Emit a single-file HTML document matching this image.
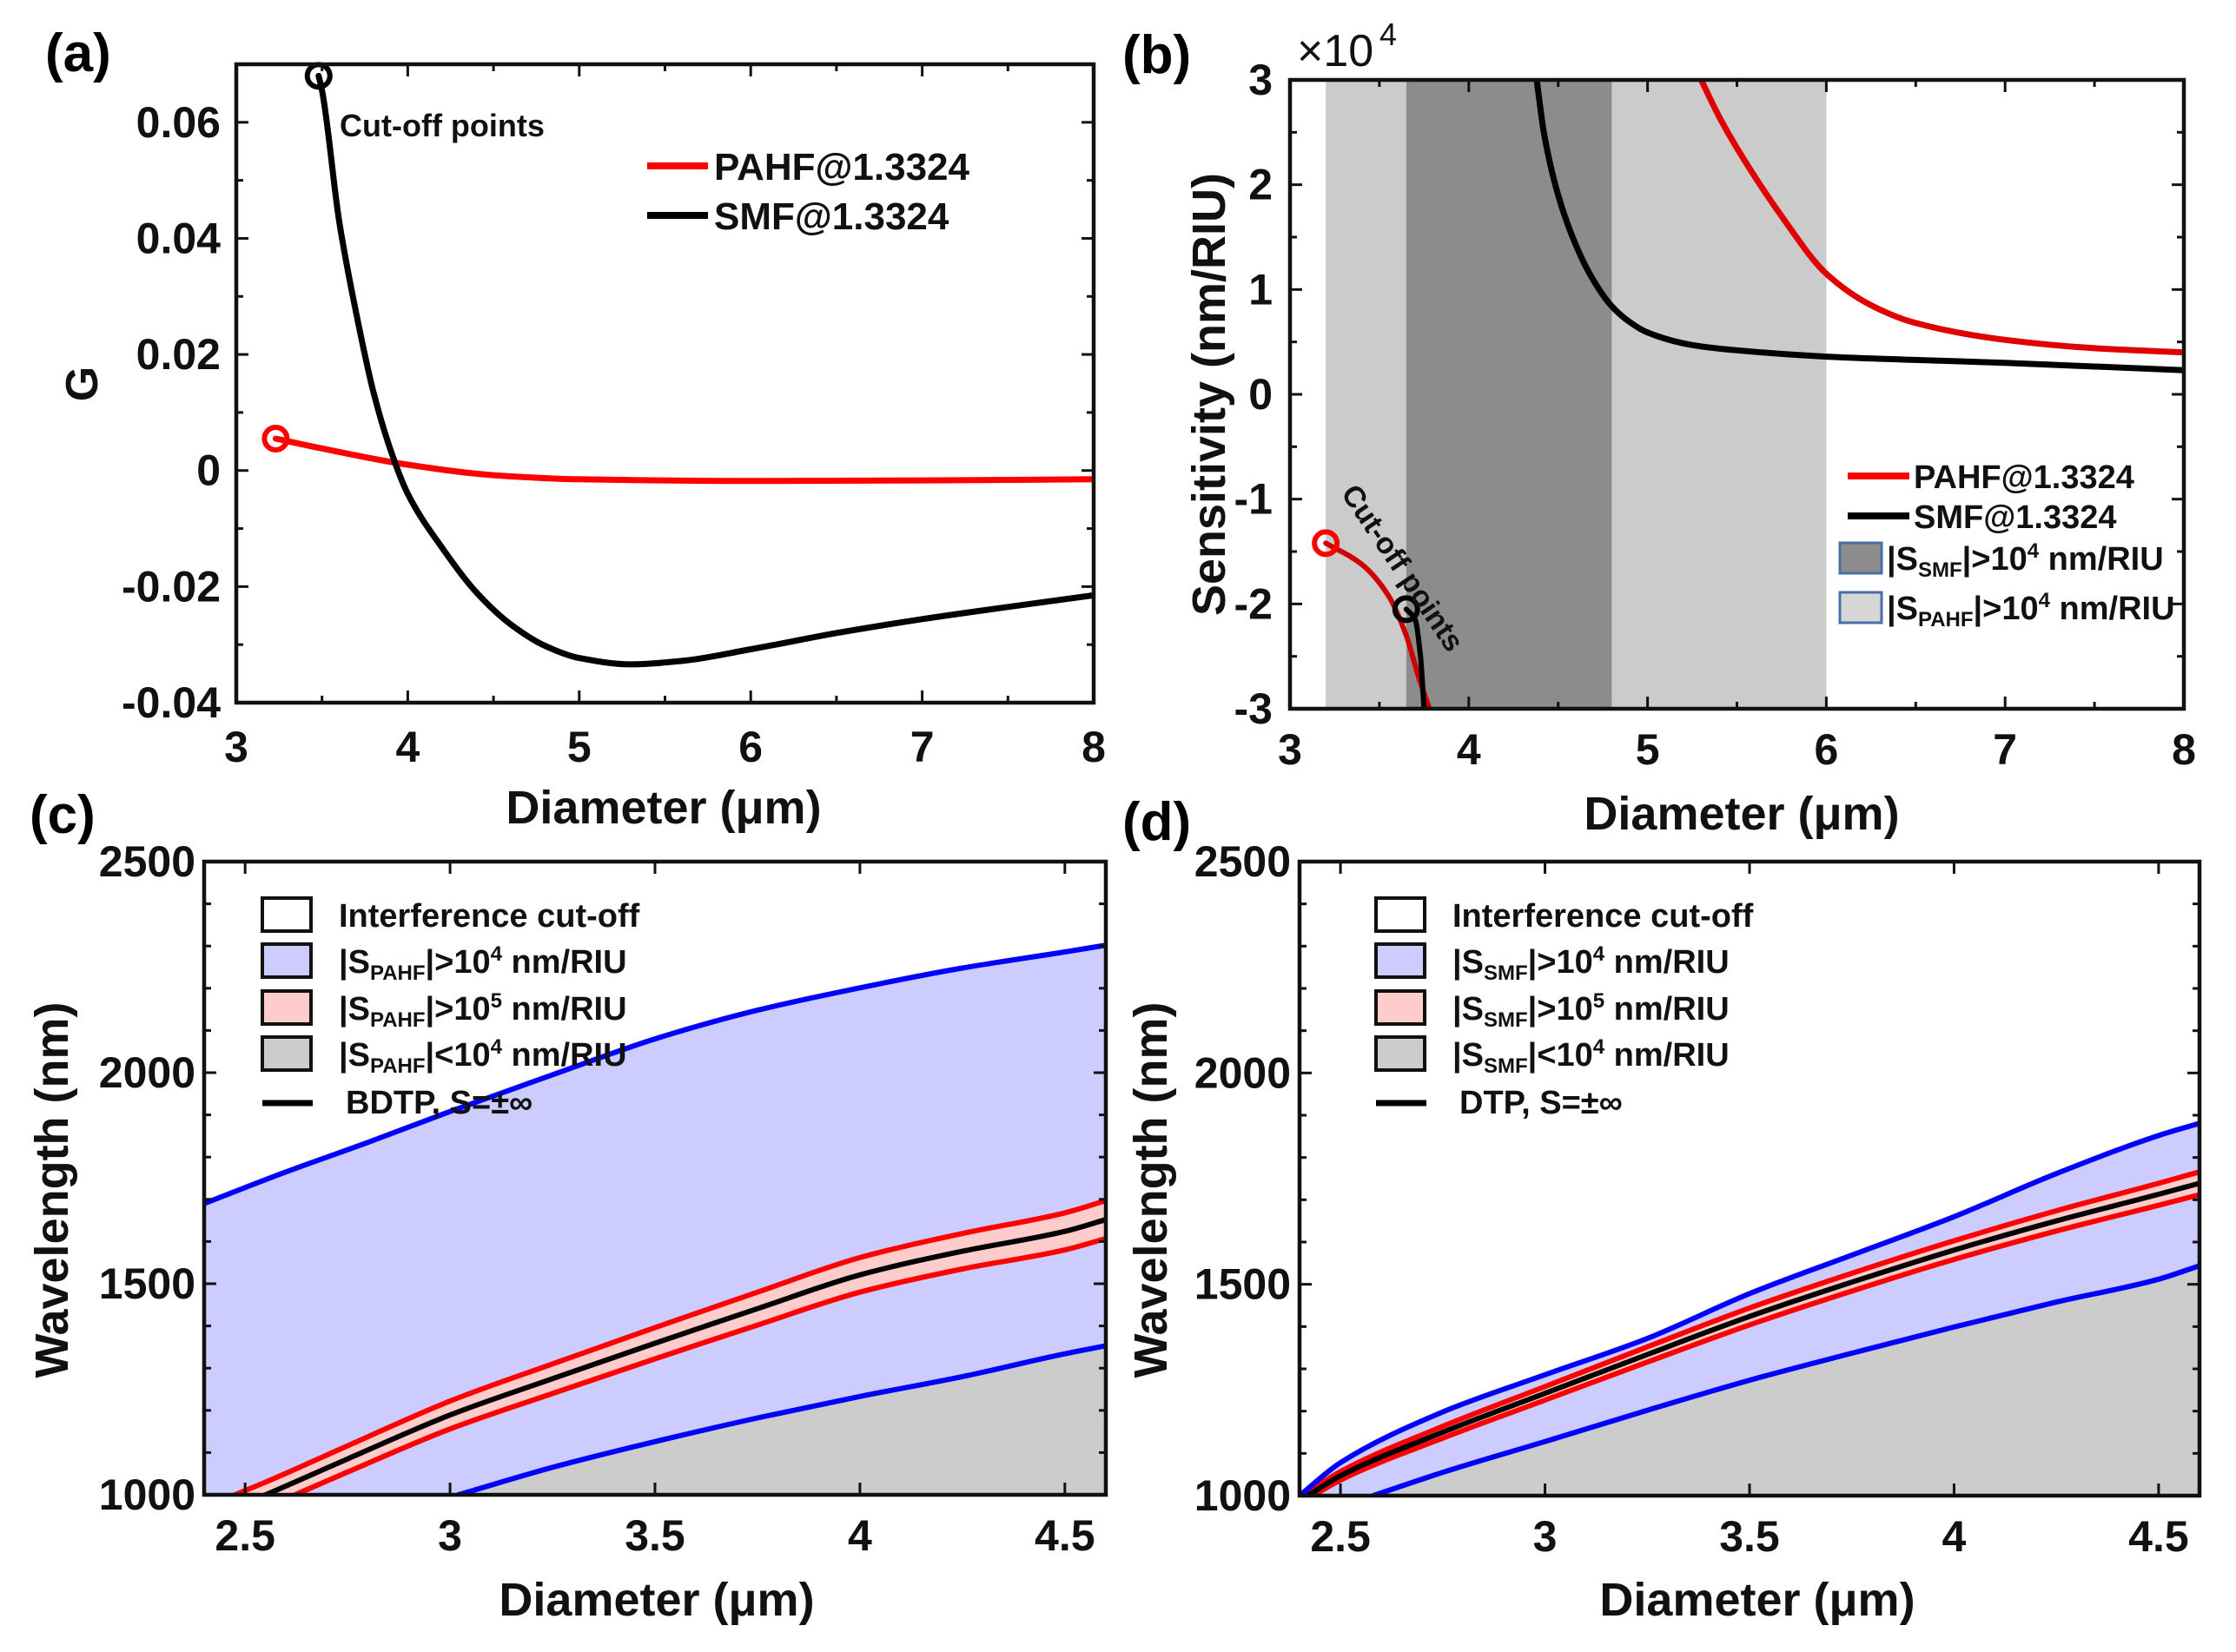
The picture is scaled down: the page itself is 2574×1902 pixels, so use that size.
<!DOCTYPE html>
<html><head><meta charset="utf-8"><style>
html,body{margin:0;padding:0;background:#fff;}
svg{display:block;font-family:"Liberation Sans",Arial,sans-serif;font-weight:bold;}
</style></head><body>
<svg id="fig" width="2574" height="1902" viewBox="0 0 2574 1902" xmlns="http://www.w3.org/2000/svg">
<defs>
<clipPath id="clipA"><rect x="272" y="74" width="987" height="736"/></clipPath>
<clipPath id="clipB"><rect x="1485" y="92" width="1029" height="724"/></clipPath>
<clipPath id="clipC"><rect x="235" y="992" width="1038" height="730"/></clipPath>
<clipPath id="clipD"><rect x="1496" y="992" width="1036" height="730"/></clipPath>
</defs>
<g id="layer"></g>
<text x="52" y="82" font-size="62">(a)</text>
<text x="1292" y="84" font-size="62">(b)</text>
<text x="34" y="959" font-size="62">(c)</text>
<text x="1292" y="967" font-size="62">(d)</text>
</svg>
<script>
// ---------- Panel (a) data ----------
const aSmfX = [3.48,3.5,3.6,3.7,3.8,3.9,4.0,4.2,4.4,4.6,4.8,5.0,5.3,5.6,6.0,6.5,7.0,7.5,8.0];
const aSmfY = [0.068,0.0655,0.043,0.027,0.0135,0.0035,-0.004,-0.0133,-0.021,-0.0265,-0.0302,-0.0323,-0.0334,-0.0328,-0.0308,-0.028,-0.0256,-0.0235,-0.0215];
const aPahfX = [3.23,3.5,4.0,4.5,5.0,6.0,7.0,8.0];
const aPahfY = [0.0055,0.0038,0.001,-0.0008,-0.0015,-0.0018,-0.0017,-0.0015];
const aXTicks = [3,4,5,6,7,8];
const aYTicks = [-0.04,-0.02,0,0.02,0.04,0.06];
const aYTickLabels = ["-0.04","-0.02","0","0.02","0.04","0.06"];
// ---------- Panel (b) data (x1e4) ----------
const bPahfUpX = [5.3,5.4,5.5,5.75,6.0,6.25,6.5,7.0,7.5,8.0];
const bPahfUpY = [3.0,2.65,2.35,1.7,1.15,0.85,0.68,0.52,0.44,0.40];
const bSmfUpX = [4.38,4.42,4.5,4.6,4.7,4.8,4.9,5.0,5.25,5.5,6.0,7.0,8.0];
const bSmfUpY = [3.0,2.5,1.9,1.42,1.08,0.84,0.69,0.59,0.47,0.42,0.36,0.30,0.23];
const bPahfLowX = [3.2,3.4,3.55,3.65,3.72,3.78];
const bPahfLowY = [-1.42,-1.62,-1.92,-2.3,-2.7,-3.0];
const bSmfLowX = [3.65,3.7,3.73,3.75];
const bSmfLowY = [-2.05,-2.15,-2.5,-3.0];
const bLightBands = [[3.2,3.65],[4.8,6.0]];
const bDarkBands = [[3.65,4.8]];
const bXTicks = [3,4,5,6,7,8];
const bYTicks = [-3,-2,-1,0,1,2,3];
// ---------- Panel (c) data ----------
const cX = [2.4,2.6,2.8,3.0,3.25,3.5,3.75,4.0,4.25,4.5,4.6];
const cBlueTop = [1690,1765,1835,1908,1995,2080,2148,2201,2248,2286,2302];
const cCenterX = [2.45,2.55,2.75,3.0,3.25,3.5,3.75,4.0,4.25,4.5,4.6];
const cCenter = [960,1000,1085,1189,1275,1359,1441,1521,1577,1624,1652];
const cHalfWidth = [30,30,31,33,35,37,39,41,42,44,45];
const cBlueLowX = [3.02,3.25,3.5,3.75,4.0,4.25,4.5,4.6];
const cBlueLow = [1000,1065,1126,1182,1233,1280,1334,1353];
const cXTicks = [2.5,3,3.5,4,4.5];
const cYTicks = [1000,1500,2000,2500];
// ---------- Panel (d) data ----------
const dBlueTopX = [2.4,2.5,2.75,3.0,3.25,3.5,3.75,4.0,4.25,4.5,4.6];
const dBlueTop = [1000,1078,1198,1286,1372,1478,1569,1660,1762,1852,1881];
const dCenterX = [2.38,2.42,2.5,2.75,3.0,3.25,3.5,3.75,4.0,4.25,4.5,4.6];
const dCenter = [975,1000,1047,1150,1242,1334,1424,1505,1581,1650,1713,1739];
const dHalfWidth = [8,8,10,14,16,18,20,21,22,24,26,27];
const dBlueLowX = [2.58,2.75,3.0,3.25,3.5,3.75,4.0,4.25,4.5,4.6];
const dBlueLow = [1000,1055,1128,1202,1273,1337,1399,1458,1512,1544];
const dXTicks = [2.5,3,3.5,4,4.5];
const dYTicks = [1000,1500,2000,2500];

const NS = "http://www.w3.org/2000/svg";
const layer = document.getElementById('layer');
function el(tag, attrs, parent){ const e=document.createElementNS(NS,tag); for(const k in attrs) e.setAttribute(k,attrs[k]); (parent||layer).appendChild(e); return e; }
function scale(d0,d1,r0,r1){ return v => r0+(v-d0)/(d1-d0)*(r1-r0); }
function pts(xs,ys,sx,sy){ return xs.map((x,i)=>[sx(x),sy(ys[i])]); }
function smooth(p){
  const n=p.length;
  let d="M"+p[0][0].toFixed(1)+","+p[0][1].toFixed(1);
  if(n<2) return d;
  const dx=[],m=[],t=[];
  for(let i=0;i<n-1;i++){dx[i]=p[i+1][0]-p[i][0]; m[i]=(p[i+1][1]-p[i][1])/dx[i];}
  t[0]=m[0]; t[n-1]=m[n-2];
  for(let i=1;i<n-1;i++){
    if(m[i-1]*m[i]<=0) t[i]=0;
    else { const w1=2*dx[i]+dx[i-1], w2=dx[i]+2*dx[i-1]; t[i]=(w1+w2)/(w1/m[i-1]+w2/m[i]); }
  }
  for(let i=0;i<n-1;i++){
    const h=dx[i]/3;
    d+=" C"+(p[i][0]+h).toFixed(1)+","+(p[i][1]+t[i]*h).toFixed(1)+" "+(p[i+1][0]-h).toFixed(1)+","+(p[i+1][1]-t[i+1]*h).toFixed(1)+" "+p[i+1][0].toFixed(1)+","+p[i+1][1].toFixed(1);
  }
  return d;
}
function frame(L,T,R,B,xt,yt,sx,sy,xminor,yminor,name){
  const g=el('g',{});
  
  
  const add=(x1,y1,x2,y2)=>el('line',{x1,y1,x2,y2,stroke:'#111','stroke-width':3},g);
  xt.forEach(v=>{const x=sx(v); add(x,B,x,B-14); add(x,T,x,T+14);});
  yt.forEach(v=>{const y=sy(v); add(L,y,L+14,y); add(R,y,R-14,y);});
  xminor.forEach(v=>{const x=sx(v); add(x,B,x,B-8); add(x,T,x,T+8);});
  yminor.forEach(v=>{const y=sy(v); add(L,y,L+8,y); add(R,y,R-8,y);});
  el('rect',{x:L,y:T,width:R-L,height:B-T,fill:'none',stroke:'#111','stroke-width':4.5},g);
}
function text(x,y,s,size,anchor,name,extra){
  const t=el('text',Object.assign({x,y,'font-size':size,'text-anchor':anchor||'start',fill:'#111'},extra||{}));
  t.textContent=s;
  
  
  return t;
}
function path(d,stroke,w,clip,name,fill){
  const p=el('path',{d,fill:fill||'none',stroke:stroke,'stroke-width':w,'stroke-linejoin':'round','stroke-linecap':'round'});
  if(clip) p.setAttribute('clip-path','url(#'+clip+')');
  
  
  return p;
}
function range(a,b,s){const r=[];for(let v=a;v<=b+1e-9;v+=s)r.push(+v.toFixed(4));return r;}

// ================= Panel A =================
(function(){
  const L=272,R=1259,T=74,B=809;
  const sx=scale(3,8,L,R), sy=scale(-0.04,0.07,B,T);
  path(smooth(pts(aPahfX,aPahfY,sx,sy)),'#ff0000',7,'clipA','pahf-curve-a');
  path(smooth(pts(aSmfX,aSmfY,sx,sy)),'#000',7,'clipA','smf-curve-a');
  const m1=el('circle',{cx:sx(aPahfX[0]),cy:sy(aPahfY[0]),r:13,fill:'none',stroke:'#ff0000','stroke-width':6});
   
  const m2=el('circle',{cx:sx(aSmfX[0]),cy:sy(aSmfY[0]),r:13,fill:'none',stroke:'#000','stroke-width':6});
   
  frame(L,T,R,B,aXTicks,aYTicks,sx,sy,range(3.5,7.5,1),range(-0.03,0.07,0.02),'panel-a');
  aXTicks.forEach(v=>text(sx(v),B+68,String(v),50,'middle','x-tick-label-a'));
  aYTicks.forEach((v,i)=>text(L-18,sy(v)+17,aYTickLabels[i],50,'end','y-tick-label-a'));
  text(764,948,'Diameter (μm)',54,'middle','x-axis-title-a');
  text(0,0,'G',52,'middle','y-axis-title-a',{transform:'translate(112,442) rotate(-90)'});
  text(391,157,'Cut-off points',36,'start','cutoff-annotation-a');
  el('line',{x1:745,y1:191,x2:815,y2:191,stroke:'#ff0000','stroke-width':8});
  text(822,207,'PAHF@1.3324',44,'start','legend-pahf-a');
  el('line',{x1:745,y1:248,x2:815,y2:248,stroke:'#000','stroke-width':8});
  text(822,264,'SMF@1.3324',44,'start','legend-smf-a');
})();

// ================= Panel B =================
(function(){
  const L=1485,R=2514,T=92,B=816;
  const sx=scale(3,8,L,R), sy=scale(-3,3,B,T);
  bLightBands.forEach(b=>{const r=el('rect',{x:sx(b[0]),y:T,width:sx(b[1])-sx(b[0]),height:B-T,fill:'#cbcbcb'});  });
  bDarkBands.forEach(b=>{const r=el('rect',{x:sx(b[0]),y:T,width:sx(b[1])-sx(b[0]),height:B-T,fill:'#8c8c8c'});  });
  path(smooth(pts(bPahfUpX,bPahfUpY,sx,sy)),'#e00000',7,'clipB','pahf-curve-upper-b');
  path(smooth(pts(bSmfUpX,bSmfUpY,sx,sy)),'#000',7,'clipB','smf-curve-upper-b');
  path(smooth(pts(bPahfLowX,bPahfLowY,sx,sy)),'#d00000',6,'clipB','pahf-curve-lower-b');
  path(smooth(pts(bSmfLowX,bSmfLowY,sx,sy)),'#000',6,'clipB','smf-curve-lower-b');
  const m1=el('circle',{cx:sx(bPahfLowX[0]),cy:sy(bPahfLowY[0]),r:13,fill:'none',stroke:'#ff0000','stroke-width':6});
   
  const m2=el('circle',{cx:sx(bSmfLowX[0]),cy:sy(bSmfLowY[0]),r:13,fill:'none',stroke:'#000','stroke-width':6});
   
  frame(L,T,R,B,bXTicks,bYTicks,sx,sy,range(3.5,7.5,1),range(-2.5,2.5,1),'panel-b');
  bXTicks.forEach(v=>text(sx(v),B+64,String(v),50,'middle','x-tick-label-b'));
  bYTicks.forEach(v=>text(L-20,sy(v)+17,String(v),50,'end','y-tick-label-b'));
  text(1493,76,'×10',52,'start','y-scale-factor-b',{'font-weight':'normal'});
  text(1588,52,'4',36,'start','y-scale-exponent-b',{'font-weight':'normal'});
  text(2005,955,'Diameter (μm)',54,'middle','x-axis-title-b');
  text(0,0,'Sensitivity (nm/RIU)',54,'middle','y-axis-title-b',{transform:'translate(1410,454) rotate(-90)'});
  text(0,0,'Cut-off points',34,'start','cutoff-annotation-b',{transform:'translate(1543,568) rotate(56)'});
  el('line',{x1:2127,y1:548,x2:2198,y2:548,stroke:'#ff0000','stroke-width':8});
  text(2203,562,'PAHF@1.3324',38,'start','legend-pahf-b');
  el('line',{x1:2127,y1:594,x2:2198,y2:594,stroke:'#000','stroke-width':8});
  text(2203,608,'SMF@1.3324',38,'start','legend-smf-b');
  el('rect',{x:2118,y:625,width:48,height:35,fill:'#8c8c8c',stroke:'#4a6fa5','stroke-width':3});
  const t1=text(2172,656,'|S',38,'start','legend-smf-band-b');
  const s1=el('tspan',{'font-size':24,dy:8},t1); s1.textContent='SMF';
  const s2=el('tspan',{dy:-8},t1); s2.textContent='|>10';
  const s3=el('tspan',{'font-size':24,dy:-14},t1); s3.textContent='4';
  const s4=el('tspan',{dy:14},t1); s4.textContent=' nm/RIU';
  el('rect',{x:2118,y:682,width:48,height:35,fill:'#d6d6d6',stroke:'#4a6fa5','stroke-width':3});
  const t2=text(2172,713,'|S',38,'start','legend-pahf-band-b');
  const u1=el('tspan',{'font-size':24,dy:8},t2); u1.textContent='PAHF';
  const u2=el('tspan',{dy:-8},t2); u2.textContent='|>10';
  const u3=el('tspan',{'font-size':24,dy:-14},t2); u3.textContent='4';
  const u4=el('tspan',{dy:14},t2); u4.textContent=' nm/RIU';
})();

// ============ Panels C and D ============
function bandPanel(cfg){
  const {L,R,T,B,clip,p}=cfg;
  const sx=scale(2.4,4.6,L,R), sy=scale(1000,2500,B,T);
  const top=pts(cfg.topX,cfg.top,sx,sy);
  const low=pts(cfg.lowX,cfg.low,sx,sy);
  const up=cfg.cX.map((x,i)=>[sx(x),sy(cfg.c[i]+cfg.hw[i])]);
  const dn=cfg.cX.map((x,i)=>[sx(x),sy(cfg.c[i]-cfg.hw[i])]);
  const ctr=pts(cfg.cX,cfg.c,sx,sy);
  let d=smooth(top)+" L"+R+","+(B+10)+" L"+top[0][0]+","+(B+10)+" Z";
  path(d,'none',0,clip,'high-sensitivity-area-'+p,'#ccccff');
  d=smooth(low)+" L"+(R+10)+","+low[low.length-1][1]+" L"+(R+10)+","+(B+10)+" L"+low[0][0]+","+(B+10)+" Z";
  path(d,'none',0,clip,'low-sensitivity-area-'+p,'#cccccc');
  const rev=dn.slice().reverse();
  d=smooth(up)+" L"+rev[0][0]+","+rev[0][1]+" "+smooth(rev).replace(/^M[^C]*/,"")+" Z";
  path(d,'none',0,clip,'ultra-sensitivity-band-'+p,'#ffcccc');
  path(smooth(up),'#ff0000',6,clip,'band-upper-edge-'+p);
  path(smooth(dn),'#ff0000',6,clip,'band-lower-edge-'+p);
  path(smooth(ctr),'#000',6,clip,'turning-point-curve-'+p);
  path(smooth(top),'#0000ff',6,clip,'blue-upper-edge-'+p);
  path(smooth(low),'#0000ff',6,clip,'blue-lower-edge-'+p);
  frame(L,T,R,B,cfg.xt,cfg.yt,sx,sy,[],range(1100,2400,100).filter(v=>v%500),'panel-'+p);
  cfg.xt.forEach(v=>text(sx(v),B+64,String(v),50,'middle','x-tick-label-'+p));
  cfg.yt.forEach(v=>text(L-10,sy(v)+17,String(v),50,'end','y-tick-label-'+p));
  text(cfg.xtx,1860,'Diameter (μm)',54,'middle','x-axis-title-'+p);
  text(0,0,'Wavelength (nm)',54,'middle','y-axis-title-'+p,{transform:'translate('+cfg.yty+',1370) rotate(-90)'});
  const bx=cfg.lx, tx=cfg.lx+88, sub=cfg.sub;
  const rows=[['#ffffff','Interference cut-off'],['#ccccff','>10','4'],['#ffcccc','>10','5'],['#cccccc','<10','4']];
  const ys=[1053,1106,1160,1213];
  rows.forEach((r,i)=>{
    const b=el('rect',{x:bx,y:ys[i]-19,width:56,height:38,fill:r[0],stroke:'#111','stroke-width':4});
    
    
    if(i===0){ text(tx,ys[i]+14,r[1],38,'start','legend-entry-'+p); return; }
    const t=text(tx,ys[i]+14,'|S',38,'start','legend-entry-'+p);
    const a=el('tspan',{'font-size':24,dy:8},t); a.textContent=sub;
    const b2=el('tspan',{dy:-8},t); b2.textContent='|'+r[1];
    const c=el('tspan',{'font-size':24,dy:-14},t); c.textContent=r[2];
    const e=el('tspan',{dy:14},t); e.textContent=' nm/RIU';
  });
  el('line',{x1:bx,y1:1270,x2:bx+58,y2:1270,stroke:'#000','stroke-width':7});
  text(tx+8,1282,cfg.lineLabel,38,'start','legend-line-entry-'+p);
}
bandPanel({L:235,R:1273,T:992,B:1721,clip:'clipC',p:'c',topX:cX,top:cBlueTop,lowX:cBlueLowX,low:cBlueLow,cX:cCenterX,c:cCenter,hw:cHalfWidth,xt:cXTicks,yt:cYTicks,xtx:756,yty:78,lx:302,sub:'PAHF',lineLabel:'BDTP, S=±∞'});
bandPanel({L:1496,R:2532,T:992,B:1722,clip:'clipD',p:'d',topX:dBlueTopX,top:dBlueTop,lowX:dBlueLowX,low:dBlueLow,cX:dCenterX,c:dCenter,hw:dHalfWidth,xt:dXTicks,yt:dYTicks,xtx:2023,yty:1343,lx:1584,sub:'SMF',lineLabel:'DTP, S=±∞'});
</script>
</body></html>
